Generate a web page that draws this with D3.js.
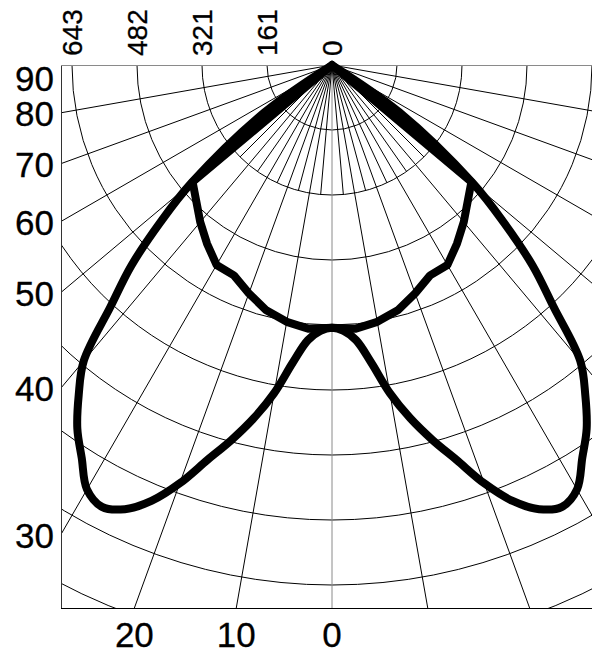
<!DOCTYPE html>
<html>
<head>
<meta charset="utf-8">
<script src="https://cdn.jsdelivr.net/npm/d3@7"></script>
<style>
  html, body { margin: 0; padding: 0; background: #fff; }
  svg { display: block; }
</style>
</head>
<body>
<svg id="chart" width="592" height="655"></svg>
<script>
// ---------------- data ----------------
const ringLabels = ["0", "161", "321", "482", "643"];
const ringLabelMax = 643;               // value of the 4th ring
const ringCount = 9;
const leftAngleLabels = [90, 80, 70, 60, 50, 40, 30];
const bottomAngleLabels = [20, 10, 0];
const majorAngles = d3.range(-90, 91, 10);
const minorAngles = [-45, -35, -25, -15, -5, 5, 15, 25, 35, 45];

// curve A (inner) : gamma angle (deg) and intensity
const anglesA = [0, 5, 10, 15, 20, 25, 30, 35, 40, 45, 50, 55];
const valuesA = [650, 655, 645, 628, 601, 574, 571, 539, 507, 475, 450, 0];

// curve B (outer)
const anglesB = [0, 2.5, 5, 7.5, 10, 12.5, 15, 17.5, 20, 22.5, 25, 27.5, 30, 32.5, 35, 37.5, 40, 42.5, 45, 47.5, 50, 55, 60];
const valuesB = [650, 658, 683, 742, 824, 895, 960, 1024, 1101, 1167, 1212, 1232, 1212, 1152, 1098, 1029, 955, 811, 702, 576, 455, 203, 0];

// ---------------- layout ----------------
const frame = { left: 61, top: 65, right: 603, bottom: 608 };
const cx = 332, cy = 65;
const ringPx = 65;

const svg = d3.select("#chart");
const r = d3.scaleLinear().domain([0, ringLabelMax]).range([0, ringPx * 4]);
const rad = d => d * Math.PI / 180;

svg.append("defs").append("clipPath").attr("id", "plotclip")
  .append("rect")
  .attr("x", frame.left).attr("y", frame.top)
  .attr("width", frame.right - frame.left).attr("height", frame.bottom - frame.top);

const grid = svg.append("g").attr("clip-path", "url(#plotclip)");
const center = grid.append("g").attr("transform", `translate(${cx},${cy})`);

// rings
const ringValues = d3.range(1, ringCount + 1).map(i => i * ringLabelMax / 4);
center.selectAll("circle.ring").data(ringValues).join("circle")
  .attr("class", "ring")
  .attr("r", d => r(d))
  .attr("fill", "none").attr("stroke", "#000").attr("stroke-width", 1);

// radial lines
const farR = 2000;
center.selectAll("line.major").data(majorAngles).join("line")
  .attr("class", "major")
  .attr("x1", 0).attr("y1", 0)
  .attr("x2", d => -farR * Math.sin(rad(d)))
  .attr("y2", d => farR * Math.cos(rad(d)))
  .attr("stroke", d => (d === 0 || Math.abs(d) === 90) ? "#8a8a8a" : "#000")
  .attr("stroke-width", 1);
center.selectAll("line.minor").data(minorAngles).join("line")
  .attr("class", "minor")
  .attr("x1", 0).attr("y1", 0)
  .attr("x2", d => -r(ringValues[1]) * Math.sin(rad(d)))
  .attr("y2", d => r(ringValues[1]) * Math.cos(rad(d)))
  .attr("stroke", "#000").attr("stroke-width", 1);

// frame (left + bottom + top)
svg.append("line")
  .attr("x1", frame.left + 0.5).attr("y1", frame.top)
  .attr("x2", frame.left + 0.5).attr("y2", frame.bottom + 0.5)
  .attr("stroke", "#333").attr("stroke-width", 1);
svg.append("line")
  .attr("x1", frame.left).attr("y1", frame.bottom + 0.5)
  .attr("x2", frame.right).attr("y2", frame.bottom + 0.5)
  .attr("stroke", "#000").attr("stroke-width", 1);
svg.append("line")
  .attr("x1", frame.left).attr("y1", frame.top + 0.5)
  .attr("x2", frame.right).attr("y2", frame.top + 0.5)
  .attr("stroke", "#8a8a8a").attr("stroke-width", 1);

// curves
function mirrored(angles, values) {
  const pts = angles.map((a, i) => ({ g: a, v: values[i] }));
  const left = pts.slice().reverse();
  const right = pts.filter(p => p.g !== 0).map(p => ({ g: -p.g, v: p.v }));
  return left.concat(right);
}
const radialLinear = d3.lineRadial()
  .angle(d => Math.PI + rad(d.g))
  .radius(d => r(d.v))
  .curve(d3.curveLinear);
const radialSmooth = d3.lineRadial()
  .angle(d => Math.PI + rad(d.g))
  .radius(d => r(d.v))
  .curve(d3.curveCatmullRom.alpha(0.5));

const curves = svg.append("g").attr("transform", `translate(${cx},${cy})`);
[[anglesA, valuesA, radialLinear], [anglesB, valuesB, radialSmooth]].forEach(([a, v, gen]) => {
  curves.append("path")
    .attr("d", gen(mirrored(a, v)))
    .attr("fill", "none")
    .attr("stroke", "#000")
    .attr("stroke-width", 8)
    .attr("stroke-linejoin", "round")
    .attr("stroke-linecap", "round");
});

// labels
const font = "'Liberation Sans', Arial, Helvetica, sans-serif";
svg.selectAll("text.left").data(leftAngleLabels).join("text")
  .attr("class", "left")
  .attr("x", frame.left - 7)
  .attr("y", d => {
    const y = cy + (cx - frame.left) / Math.tan(rad(d)) + 1;
    return Math.max(y, frame.top + 13);
  })
  .attr("text-anchor", "end")
  .attr("dominant-baseline", "central")
  .attr("font-family", font).attr("font-size", 35)
  .attr("fill", "#000").attr("stroke", "#000").attr("stroke-width", 0.3)
  .text(d => d);

svg.selectAll("text.bottom").data(bottomAngleLabels).join("text")
  .attr("class", "bottom")
  .attr("x", d => cx - (frame.bottom - cy) * Math.tan(rad(d)))
  .attr("y", frame.bottom + 26)
  .attr("text-anchor", "middle")
  .attr("dominant-baseline", "central")
  .attr("font-family", font).attr("font-size", 35)
  .attr("fill", "#000").attr("stroke", "#000").attr("stroke-width", 0.3)
  .text(d => d);

svg.selectAll("text.top").data(ringLabels).join("text")
  .attr("class", "top")
  .attr("transform", (d, i) => `translate(${cx - r(i * ringLabelMax / 4)},${frame.top - 9}) rotate(-90)`)
  .attr("text-anchor", "start")
  .attr("dominant-baseline", "central")
  .attr("font-family", font).attr("font-size", 28)
  .attr("fill", "#000").attr("stroke", "#000").attr("stroke-width", 0.3)
  .text(d => d);
</script>
</body>
</html>
